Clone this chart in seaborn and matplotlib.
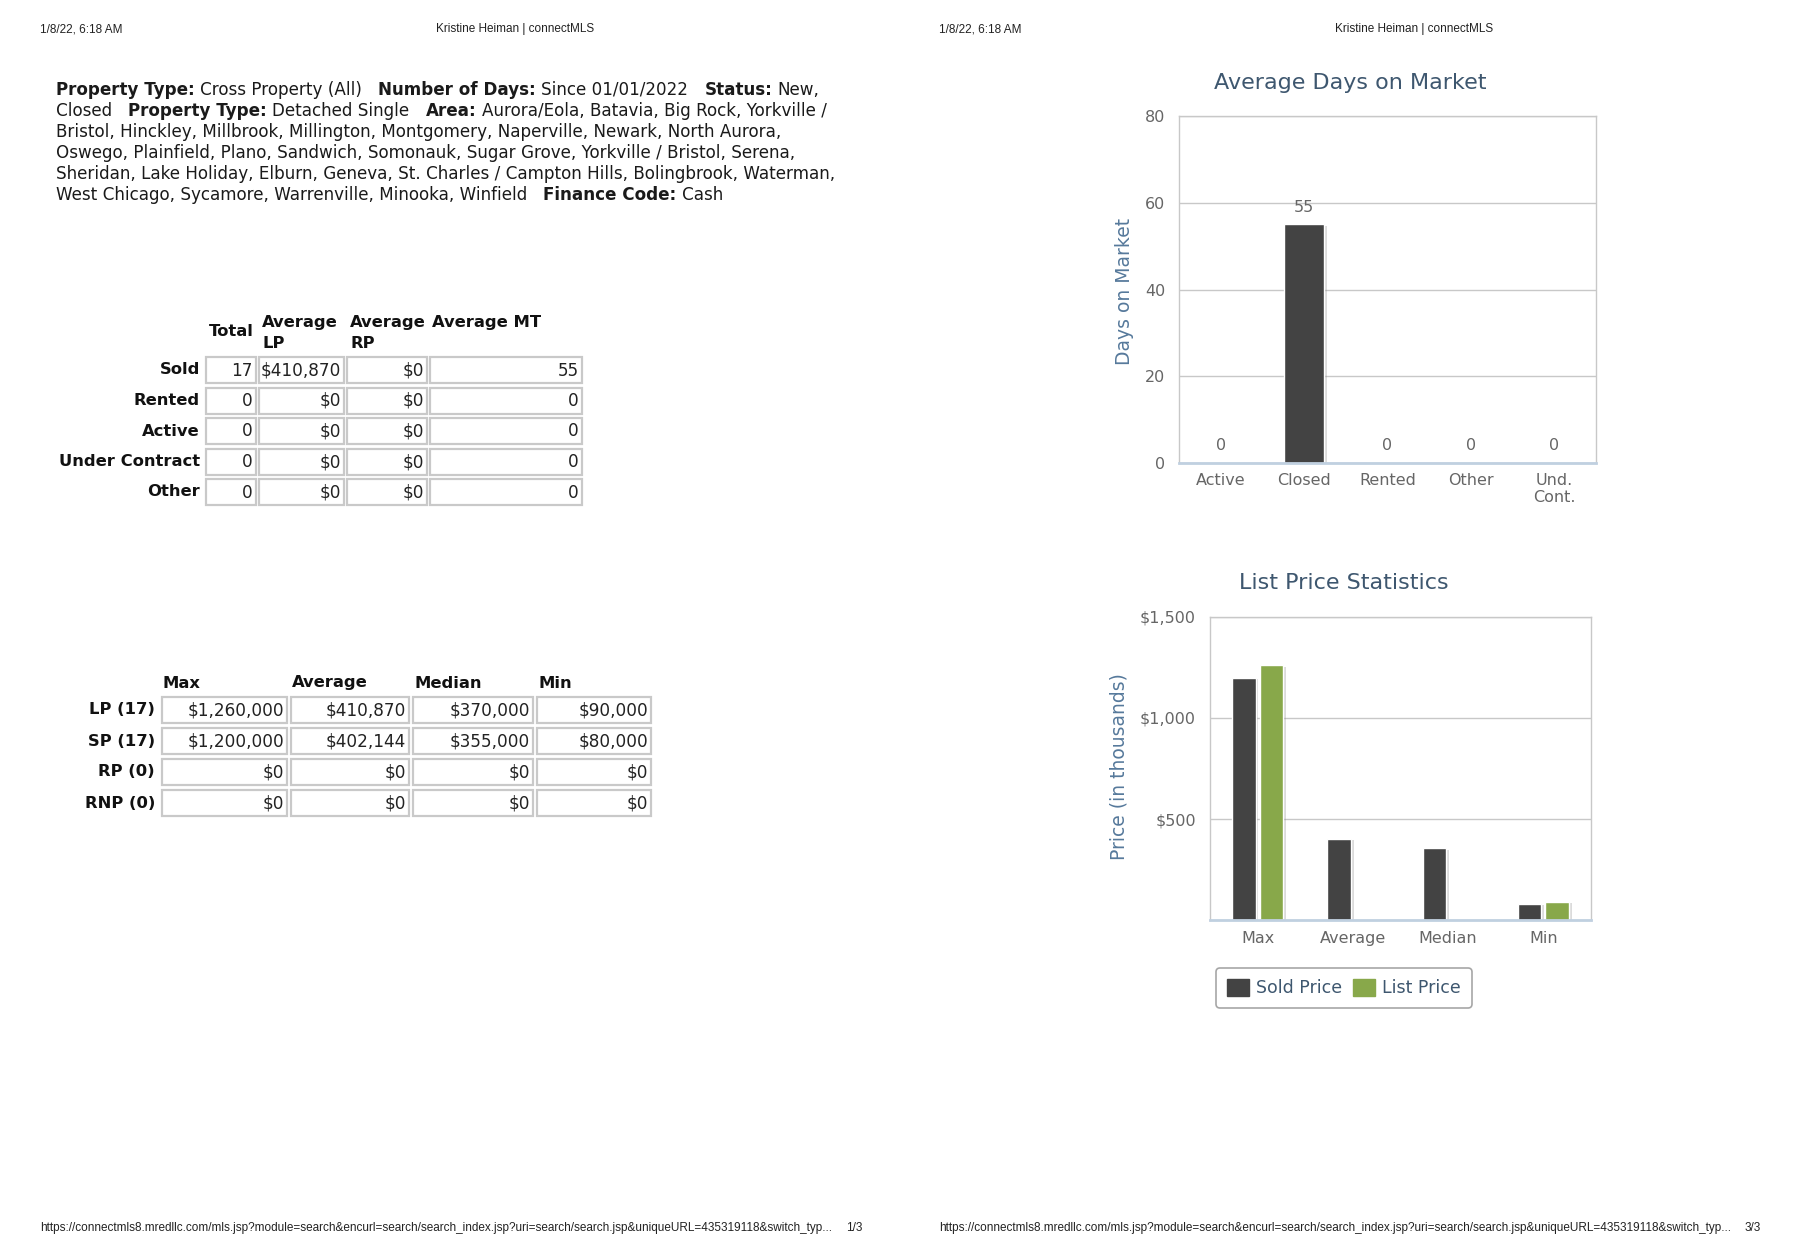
import numpy as np
import pandas as pd
import matplotlib
matplotlib.use("Agg")
import matplotlib.pyplot as plt
import matplotlib.patheffects as pe
from matplotlib.patches import Rectangle, Patch
import seaborn as sns

# ---- data -------------------------------------------------------------
header_date = "1/8/22, 6:18 AM"
header_title = "Kristine Heiman | connectMLS"
footer_url = ("https://connectmls8.mredllc.com/mls.jsp?module=search&encurl=search/search_index.jsp"
              "?uri=search/search.jsp&uniqueURL=435319118&switch_typ...")
page_numbers = ["1/3", "3/3"]

# criteria paragraph, (text, bold) per line as wrapped in the report
criteria_lines = [
    [("Property Type:", True), (" Cross Property (All)   ", False), ("Number of Days:", True),
     (" Since 01/01/2022   ", False), ("Status:", True), (" New,", False)],
    [("Closed   ", False), ("Property Type:", True), (" Detached Single   ", False), ("Area:", True),
     (" Aurora/Eola, Batavia, Big Rock, Yorkville /", False)],
    [("Bristol, Hinckley, Millbrook, Millington, Montgomery, Naperville, Newark, North Aurora,", False)],
    [("Oswego, Plainfield, Plano, Sandwich, Somonauk, Sugar Grove, Yorkville / Bristol, Serena,", False)],
    [("Sheridan, Lake Holiday, Elburn, Geneva, St. Charles / Campton Hills, Bolingbrook, Waterman,", False)],
    [("West Chicago, Sycamore, Warrenville, Minooka, Winfield   ", False), ("Finance Code:", True),
     (" Cash", False)],
]

status_rows = ["Sold", "Rented", "Active", "Under Contract", "Other"]
status_total = [17, 0, 0, 0, 0]
status_avg_lp = [410870, 0, 0, 0, 0]
status_avg_rp = [0, 0, 0, 0, 0]
status_avg_mt = [55, 0, 0, 0, 0]

price_rows = ["LP (17)", "SP (17)", "RP (0)", "RNP (0)"]
price_cols = ["Max", "Average", "Median", "Min"]
price_lp = [1260000, 410870, 370000, 90000]
price_sp = [1200000, 402144, 355000, 80000]
price_rp = [0, 0, 0, 0]
price_rnp = [0, 0, 0, 0]

dom_cats = ["Active", "Closed", "Rented", "Other", "Und.\nCont."]
dom_vals = [0, 55, 0, 0, 0]

stat_cats = ["Max", "Average", "Median", "Min"]
sold_k = [1200, 402.144, 355, 80]
list_k = [1260, np.nan, np.nan, 90]   # chart only shows list bars for Max and Min

DARK = "#434343"
GREEN = "#88a84a"
TITLE_C = "#3E576F"
AXTITLE_C = "#56799b"
LABEL_C = "#666666"

# ---- figure / page canvas in pixels ------------------------------------
W, H = 1800, 1260
sns.set_style("white")
plt.rcParams["font.family"] = ["DejaVu Sans"]
fig = plt.figure(figsize=(18, 12.6), dpi=100)
page = fig.add_axes([0, 0, 1, 1], zorder=0)
page.set_xlim(0, W)
page.set_ylim(H, 0)
page.axis("off")
renderer = fig.canvas.get_renderer()


def frac(x0, y0, x1, y1):
    return [x0 / W, 1 - y1 / H, (x1 - x0) / W, (y1 - y0) / H]


def text_w(s, **kw):
    t = page.text(0, 0, s, **kw)
    w = t.get_window_extent(renderer).width
    t.remove()
    return w


def space_w(**kw):
    return text_w("a a", **kw) - text_w("aa", **kw)


def rich_line(x, y, parts, size, color="#1a1a1a"):
    for s, bold in parts:
        kw = dict(fontsize=size, fontweight="bold" if bold else "normal")
        sp = space_w(**kw)
        core = s.strip()
        lead = len(s) - len(s.lstrip())
        trail = len(s) - len(s.rstrip())
        x += lead * sp
        page.text(x, y, core, ha="left", va="center", color=color, **kw)
        x += text_w(core, **kw) + trail * sp


def line_width(parts, size):
    total = 0
    for s, bold in parts:
        kw = dict(fontsize=size, fontweight="bold" if bold else "normal")
        core = s.strip()
        total += text_w(core, **kw) + (len(s) - len(core)) * space_w(**kw)
    return total


# ---- page headers / footers -------------------------------------------
small_font = ["Liberation Sans Narrow", "Liberation Sans", "DejaVu Sans"]
url_size = 8 * 792 / text_w(footer_url, fontsize=8, family=small_font)
for off, pg in zip([0, 899], page_numbers):
    page.text(40 + off, 29, header_date, fontsize=url_size, family=small_font, va="center", color="#222")
    page.text(515 + off, 29, header_title, fontsize=url_size, family=small_font, ha="center",
              va="center", color="#222")
    page.text(40 + off, 1228, footer_url, fontsize=url_size, family=small_font, va="center", color="#222")
page.text(854, 1228, page_numbers[0], fontsize=url_size, family=small_font, ha="center", va="center", color="#222")
page.text(1753, 1228, page_numbers[1], fontsize=url_size, family=small_font, ha="center", va="center", color="#222")

# ---- criteria paragraph -----------------------------------------------
para_size = 10 * 762 / line_width(criteria_lines[0], 10)
for i, parts in enumerate(criteria_lines):
    rich_line(56, 90 + i * 21.1, parts, para_size)


# ---- tables -------------------------------------------------------------
def cell(x0, x1, top, h, txt):
    page.add_patch(Rectangle((x0, top), x1 - x0, h, facecolor="white", edgecolor="#c9c9c9", lw=1.6))
    page.text(x1 - 3, top + h / 2 + 0.5, txt, ha="right", va="center", fontsize=12.2, color="#222")


money = lambda v: "${:,}".format(v)
BOLD = dict(fontsize=11.8, fontweight="bold", color="#111")

cols1 = [(206, 256), (259, 344), (347, 427), (430, 582)]
page.text(231, 332, "Total", ha="center", va="center", **BOLD)
page.text(262, 322, "Average", ha="left", va="center", **BOLD)
page.text(262, 343, "LP", ha="left", va="center", **BOLD)
page.text(350, 322, "Average", ha="left", va="center", **BOLD)
page.text(350, 343, "RP", ha="left", va="center", **BOLD)
page.text(432, 322, "Average MT", ha="left", va="center", **BOLD)
for i, name in enumerate(status_rows):
    top = 357 + i * 30.5
    page.text(200, top + 13, name, ha="right", va="center", **BOLD)
    vals = [str(status_total[i]), money(status_avg_lp[i]), money(status_avg_rp[i]), str(status_avg_mt[i])]
    for (x0, x1), v in zip(cols1, vals):
        cell(x0, x1, top, 26, v)

cols2 = [(162, 287), (291, 409), (413, 533), (537, 651)]
for (x0, x1), name in zip(cols2, price_cols):
    page.text(x0 + 1, 683, name, ha="left", va="center", **BOLD)
for i, (name, row) in enumerate(zip(price_rows, [price_lp, price_sp, price_rp, price_rnp])):
    top = 697 + i * 31
    page.text(155, top + 13, name, ha="right", va="center", **BOLD)
    for (x0, x1), v in zip(cols2, row):
        cell(x0, x1, top, 26, money(v))


# ---- charts -------------------------------------------------------------
def style_axes(ax, ypad, xpad):
    ax.set_xlabel("")
    ax.set_ylabel("")
    for s in ["left", "top", "right"]:
        ax.spines[s].set_color("#C8C8C8")
        ax.spines[s].set_linewidth(1)
    ax.spines["bottom"].set_color("#C0D0E0")
    ax.spines["bottom"].set_linewidth(2)
    ax.yaxis.grid(True, color="#C8C8C8", lw=1)
    ax.set_axisbelow(True)
    ax.tick_params(axis="y", length=0, pad=ypad, labelsize=11.5, labelcolor=LABEL_C)
    ax.tick_params(axis="x", which="major", length=0, pad=xpad, labelsize=11.5, labelcolor=LABEL_C)
    n = len(ax.get_xticks())
    ax.set_xticks(np.arange(n + 1) - 0.5, minor=True)
    ax.tick_params(axis="x", which="minor", length=6, width=1, color="#C0D0E0", direction="out")
    for p in ax.patches:
        p.set_path_effects([pe.SimplePatchShadow(offset=(2, -1), shadow_rgbFace="#888888", alpha=0.3),
                            pe.Normal()])


ax1 = fig.add_axes(frac(1179, 116, 1596, 463), zorder=1)
sns.barplot(x=dom_cats, y=dom_vals, color=DARK, saturation=1, width=0.48, ax=ax1)
ax1.set_ylim(0, 80)
ax1.set_yticks([0, 20, 40, 60, 80])
style_axes(ax1, 10, 7)
ax1.bar_label(ax1.containers[0], fmt="%g", padding=7, color=LABEL_C, fontsize=11.5)
fig.text(1350 / W, 1 - 83 / H, "Average Days on Market", ha="center", va="center", fontsize=16, color=TITLE_C)
fig.text(1124 / W, 1 - 291 / H, "Days on Market", rotation=90, ha="center", va="center",
         fontsize=13.5, color=AXTITLE_C)

price_df = pd.DataFrame({
    "stat": stat_cats * 2,
    "series": ["Sold Price"] * 4 + ["List Price"] * 4,
    "price": sold_k + list_k,
}).dropna()
ax2 = fig.add_axes(frac(1210, 617, 1591, 920), zorder=1)
sns.barplot(data=price_df, x="stat", y="price", hue="series", order=stat_cats,
            hue_order=["Sold Price", "List Price"], palette=[DARK, GREEN], saturation=1,
            width=0.58, gap=0.15, legend=False, ax=ax2)
ax2.set_ylim(0, 1500)
ax2.set_yticks([500, 1000, 1500])
ax2.set_yticklabels(["$500", "$1,000", "$1,500"])
style_axes(ax2, 10, 8)
fig.text(1344 / W, 1 - 583 / H, "List Price Statistics", ha="center", va="center", fontsize=16, color=TITLE_C)
fig.text(1119 / W, 1 - 767 / H, "Price (in thousands)", rotation=90, ha="center", va="center",
         fontsize=13.5, color=AXTITLE_C)

handles = [Patch(facecolor=DARK, edgecolor=DARK), Patch(facecolor=GREEN, edgecolor=GREEN)]
leg = fig.legend(handles, ["Sold Price", "List Price"], loc="center",
                 bbox_to_anchor=(1344 / W, 1 - 988 / H), ncol=2, frameon=True, fancybox=True,
                 fontsize=12.5, labelcolor=TITLE_C, handlelength=1.3, handleheight=1.1,
                 columnspacing=0.6, handletextpad=0.4, borderpad=0.6)
leg.get_frame().set_edgecolor("#909090")
leg.get_frame().set_linewidth(1.2)

fig.savefig("out.png", dpi=100, facecolor="white")
